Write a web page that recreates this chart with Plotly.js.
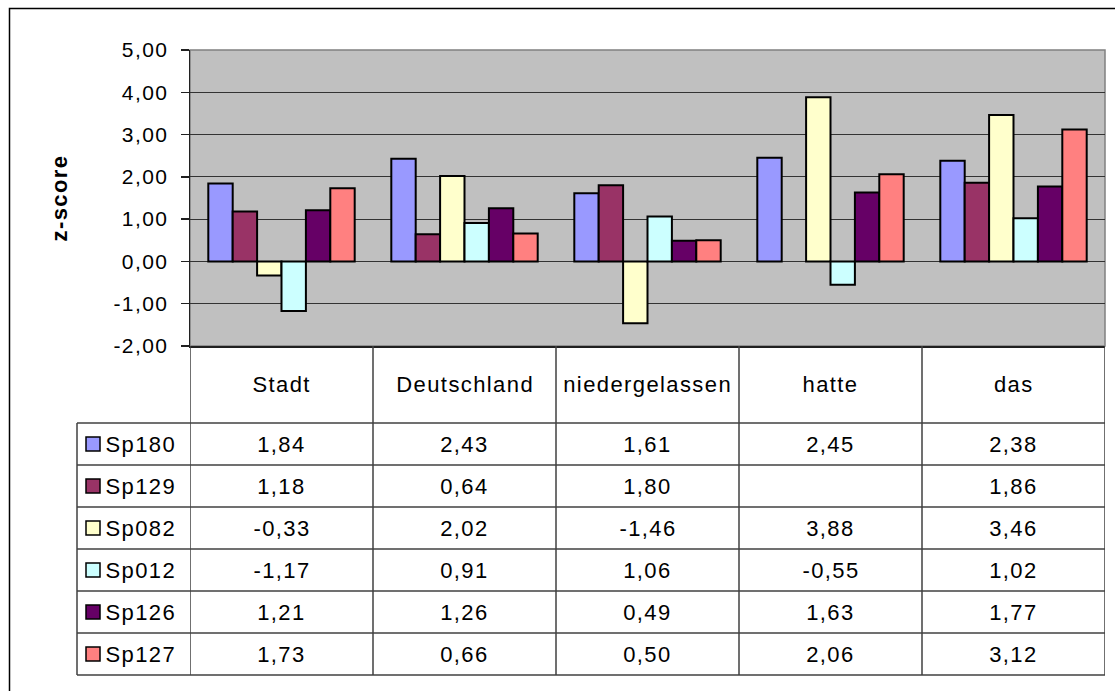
<!DOCTYPE html>
<html>
<head>
<meta charset="utf-8">
<script src="https://cdn.plot.ly/plotly-3.0.1.min.js"></script>
<style>
html, body { margin: 0; padding: 0; background: #ffffff; }
#chart { width: 1115px; height: 691px; }
#chart svg text { letter-spacing: 1.4px; }
</style>
</head>
<body>
<div id="chart"></div>
<script>
// ---- data ----
const categories = ["Stadt", "Deutschland", "niedergelassen", "hatte", "das"];
const seriesNames = ["Sp180", "Sp129", "Sp082", "Sp012", "Sp126", "Sp127"];
const Sp180 = [1.84, 2.43, 1.61, 2.45, 2.38];
const Sp129 = [1.18, 0.64, 1.80, null, 1.86];
const Sp082 = [-0.33, 2.02, -1.46, 3.88, 3.46];
const Sp012 = [-1.17, 0.91, 1.06, -0.55, 1.02];
const Sp126 = [1.21, 1.26, 0.49, 1.63, 1.77];
const Sp127 = [1.73, 0.66, 0.50, 2.06, 3.12];
const seriesValues = [Sp180, Sp129, Sp082, Sp012, Sp126, Sp127];
const yTickValues = [-2, -1, 0, 1, 2, 3, 4, 5];
const yTitle = "z-score";

// ---- styles ----
const colors = ["#9999FF", "#993366", "#FFFFCC", "#CCFFFF", "#660066", "#FF8080"];
const FONT = "Liberation Sans, Arial, sans-serif";
const FS = 22;
const W = 1115, H = 691;
const M = { l: 190, r: 10, t: 50, b: 345 };
const plotH = H - M.t - M.b;
const plotBottomPx = H - M.b;
const headerBottomPx = 423;
const rowH = 42;
const tableLeftPx = 77;
const lineColor = "#404040";

function py(p) { return (plotBottomPx - p) / plotH; }   // pixel y -> paper y
function pxp(p) { return (p - M.l) / (W - M.l - M.r); } // pixel x -> paper x
function fmt(v) { return v === null ? "" : v.toFixed(2).replace(".", ","); }

const xIdx = categories.map((c, i) => i);
const traces = seriesNames.map((name, s) => ({
  type: "bar",
  name: name,
  x: xIdx,
  y: seriesValues[s],
  marker: { color: colors[s], line: { color: "#000000", width: 2 } },
  hoverinfo: "skip"
}));

const shapes = [];
const annotations = [];

// outer border
shapes.push({ type: "rect", xref: "paper", yref: "paper", x0: pxp(9.5), x1: pxp(1125), y0: py(8.5), y1: py(720),
  line: { color: "#000000", width: 1.5 }, fillcolor: "rgba(0,0,0,0)", layer: "below" });

const nRows = seriesNames.length;
const tableBottomPx = headerBottomPx + rowH * nRows;
const nCat = categories.length;

// vertical lines at category boundaries (header + rows)
for (let i = 0; i <= nCat; i++) {
  shapes.push({ type: "line", xref: "x", yref: "paper", x0: i - 0.5, x1: i - 0.5,
    y0: py(plotBottomPx), y1: py(tableBottomPx), line: { color: lineColor, width: 1.5 } });
}
// table left border
shapes.push({ type: "line", xref: "paper", yref: "paper", x0: pxp(tableLeftPx), x1: pxp(tableLeftPx),
  y0: py(headerBottomPx), y1: py(tableBottomPx), line: { color: lineColor, width: 1.5 } });
// horizontal row lines
for (let r = 0; r <= nRows; r++) {
  const yy = headerBottomPx + r * rowH;
  shapes.push({ type: "line", xref: "paper", yref: "paper", x0: pxp(tableLeftPx), x1: 1,
    y0: py(yy), y1: py(yy), line: { color: lineColor, width: 1.5 } });
}
// header labels
categories.forEach((c, i) => {
  annotations.push({ xref: "x", yref: "paper", x: i, y: py((plotBottomPx + headerBottomPx) / 2),
    text: c, showarrow: false, xanchor: "center", yanchor: "middle",
    font: { family: FONT, size: FS, color: "#000000" } });
});
// rows
seriesNames.forEach((name, s) => {
  const cy = headerBottomPx + s * rowH + rowH / 2;
  shapes.push({ type: "rect", xref: "paper", yref: "paper", x0: pxp(86), x1: pxp(100), y0: py(cy - 7), y1: py(cy + 7),
    fillcolor: colors[s], line: { color: "#000000", width: 1.5 } });
  annotations.push({ xref: "paper", yref: "paper", x: pxp(107), y: py(cy), text: name, showarrow: false,
    xanchor: "left", yanchor: "middle", font: { family: FONT, size: FS, color: "#000000" } });
  seriesValues[s].forEach((v, i) => {
    annotations.push({ xref: "x", yref: "paper", x: i, y: py(cy), text: fmt(v), showarrow: false,
      xanchor: "center", yanchor: "middle", font: { family: FONT, size: FS, color: "#000000" } });
  });
});

const layout = {
  width: W, height: H,
  margin: M,
  paper_bgcolor: "#ffffff",
  plot_bgcolor: "#C0C0C0",
  separators: ",.",
  showlegend: false,
  barmode: "group",
  bargap: 0.2,
  bargroupgap: 0,
  font: { family: FONT, size: FS, color: "#000000" },
  xaxis: {
    range: [-0.5, nCat - 0.5],
    showticklabels: false,
    ticks: "",
    showgrid: false,
    zeroline: false,
    showline: true, linecolor: "#202020", linewidth: 1.5, mirror: false,
    fixedrange: true
  },
  yaxis: {
    range: [-2, 5],
    tickmode: "array",
    tickvals: yTickValues,
    ticktext: yTickValues.map(fmt),
    ticks: "outside", ticklen: 8, tickcolor: "#202020", tickwidth: 1.5,
    ticklabelstandoff: 8,
    tickfont: { family: FONT, size: 21, color: "#000000" },
    showgrid: true, gridcolor: "#333333", gridwidth: 1,
    zeroline: true, zerolinecolor: "#333333", zerolinewidth: 1,
    showline: true, linecolor: "#202020", linewidth: 1.5,
    title: { text: yTitle, standoff: 46, font: { family: FONT, size: FS, color: "#000000", weight: "bold" } },
    automargin: false,
    fixedrange: true
  },
  shapes: shapes,
  annotations: annotations
};

// plot area border (gray) on top/right
layout.shapes.push({ type: "rect", xref: "paper", yref: "paper", x0: 0, x1: 1, y0: 0, y1: 1,
  line: { color: "#808080", width: 1.5 }, fillcolor: "rgba(0,0,0,0)", layer: "below" });

Plotly.newPlot("chart", traces, layout, { displayModeBar: false, staticPlot: true });
</script>
</body>
</html>
